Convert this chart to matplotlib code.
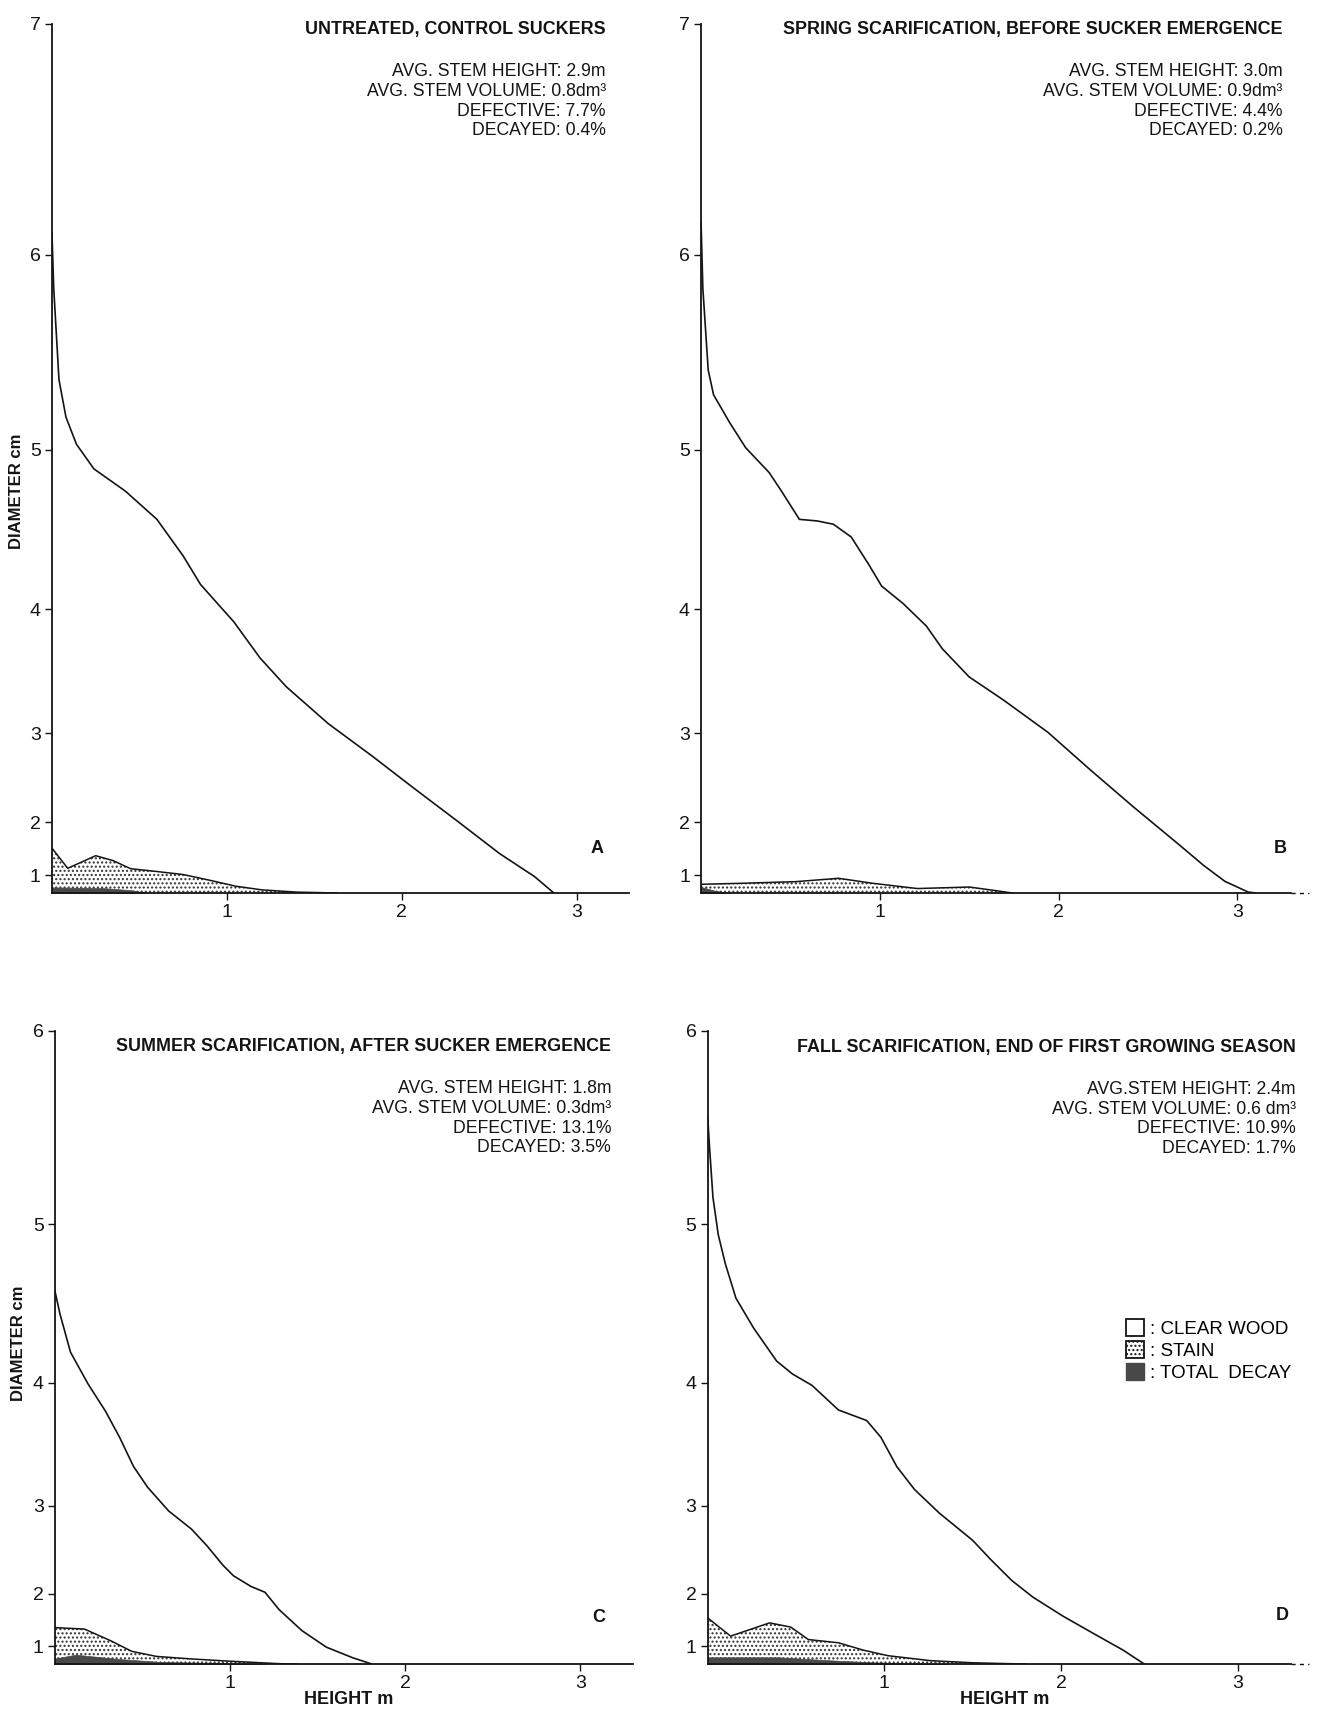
import numpy as np
import matplotlib.pyplot as plt
from matplotlib.patches import Patch

plt.rcParams['font.family'] = ['Liberation Sans', 'DejaVu Sans']
plt.rcParams['hatch.linewidth'] = 1.0

# --- panel texts ---
panel_letters = ['A', 'B', 'C', 'D']
titles = ['UNTREATED, CONTROL SUCKERS',
          'SPRING SCARIFICATION, BEFORE SUCKER EMERGENCE',
          'SUMMER SCARIFICATION, AFTER SUCKER EMERGENCE',
          'FALL SCARIFICATION, END OF FIRST GROWING SEASON']
stem_height = ['AVG. STEM HEIGHT: 2.9m', 'AVG. STEM HEIGHT: 3.0m',
               'AVG. STEM HEIGHT: 1.8m', 'AVG.STEM HEIGHT: 2.4m']
stem_volume = ['AVG. STEM VOLUME: 0.8dm\u00b3', 'AVG. STEM VOLUME: 0.9dm\u00b3',
               'AVG. STEM VOLUME: 0.3dm\u00b3', 'AVG. STEM VOLUME: 0.6 dm\u00b3']
defective = ['DEFECTIVE: 7.7%', 'DEFECTIVE: 4.4%', 'DEFECTIVE: 13.1%', 'DEFECTIVE: 10.9%']
decayed = ['DECAYED: 0.4%', 'DECAYED: 0.2%', 'DECAYED: 3.5%', 'DECAYED: 1.7%']
diam_max = [7, 7, 6, 6]

# --- stem profiles: height (m) vs diameter (cm) ---
a_x = [0, 0.01, 0.04, 0.08, 0.14, 0.24, 0.42, 0.60, 0.75, 0.85, 1.04, 1.19, 1.34,
       1.58, 1.83, 2.07, 2.32, 2.56, 2.76, 2.87]
a_d = [6.10, 5.84, 5.38, 5.18, 5.03, 4.89, 4.76, 4.59, 4.36, 4.17, 3.91, 3.64, 3.41,
       3.09, 2.78, 2.43, 2.01, 1.49, 0.96, 0]
a_stain_x = [0, 0.09, 0.25, 0.35, 0.45, 0.60, 0.75, 0.90, 1.05, 1.20, 1.40, 1.63]
a_stain_d = [1.59, 1.18, 1.45, 1.35, 1.17, 1.10, 1.02, 0.85, 0.62, 0.42, 0.22, 0]
a_decay_x = [0, 0.30, 0.45, 0.55]
a_decay_d = [0.56, 0.52, 0.40, 0]

b_x = [0, 0.01, 0.04, 0.07, 0.16, 0.25, 0.38, 0.45, 0.55, 0.65, 0.74, 0.84, 0.94,
       1.01, 1.13, 1.26, 1.35, 1.50, 1.69, 1.94, 2.18, 2.42, 2.67, 2.81, 2.93, 3.06, 3.10]
b_d = [6.15, 5.84, 5.43, 5.30, 5.15, 5.01, 4.87, 4.76, 4.59, 4.58, 4.56, 4.48, 4.30,
       4.16, 4.04, 3.88, 3.71, 3.49, 3.30, 3.01, 2.63, 2.20, 1.66, 1.25, 0.81, 0.23, 0]
b_stain_x = [0, 0.23, 0.53, 0.77, 0.96, 1.21, 1.50, 1.64, 1.74]
b_stain_d = [0.70, 0.74, 0.80, 0.91, 0.74, 0.50, 0.58, 0.38, 0]
b_decay_x = [0, 0.08, 0.16]
b_decay_d = [0.58, 0.35, 0]

c_x = [0, 0.03, 0.09, 0.19, 0.29, 0.37, 0.45, 0.53, 0.65, 0.78, 0.87, 0.96, 1.02,
       1.12, 1.20, 1.28, 1.41, 1.55, 1.70, 1.81]
c_d = [4.61, 4.46, 4.21, 3.99, 3.79, 3.59, 3.35, 3.17, 2.95, 2.77, 2.59, 2.37, 2.24,
       2.10, 2.02, 1.76, 1.38, 0.98, 0.60, 0]
c_stain_x = [0, 0.17, 0.32, 0.44, 0.58, 0.78, 0.99, 1.28, 1.38]
c_stain_d = [1.44, 1.41, 1.15, 0.85, 0.66, 0.54, 0.41, 0.15, 0]
c_decay_x = [0, 0.12, 0.36, 0.60, 0.97, 1.20]
c_decay_d = [0.56, 0.73, 0.54, 0.35, 0.22, 0]

d_x = [0, 0.01, 0.03, 0.06, 0.10, 0.16, 0.26, 0.39, 0.48, 0.59, 0.74, 0.90, 0.98,
       1.07, 1.17, 1.31, 1.50, 1.60, 1.72, 1.84, 2.01, 2.20, 2.35, 2.47]
d_d = [5.58, 5.43, 5.15, 4.94, 4.77, 4.56, 4.37, 4.15, 4.06, 3.98, 3.80, 3.72, 3.59,
       3.35, 3.15, 2.93, 2.65, 2.44, 2.18, 1.95, 1.65, 1.28, 0.89, 0]
d_stain_x = [0, 0.13, 0.35, 0.47, 0.57, 0.74, 0.88, 1.02, 1.26, 1.50, 1.80]
d_stain_d = [1.62, 1.26, 1.53, 1.45, 1.18, 1.10, 0.89, 0.69, 0.44, 0.27, 0]
d_decay_x = [0, 0.40, 0.64, 0.93, 1.22, 1.36]
d_decay_d = [0.62, 0.62, 0.49, 0.31, 0.15, 0]

profiles = [(a_x, a_d), (b_x, b_d), (c_x, c_d), (d_x, d_d)]
stains = [(a_stain_x, a_stain_d), (b_stain_x, b_stain_d),
          (c_stain_x, c_stain_d), (d_stain_x, d_stain_d)]
decays = [(a_decay_x, a_decay_d), (b_decay_x, b_decay_d),
          (c_decay_x, c_decay_d), (d_decay_x, d_decay_d)]

# --- layout (figure fractions) ---
rects = [[0.0394, 0.4784, 0.4375, 0.5076],
         [0.5315, 0.4784, 0.4473, 0.5076],
         [0.0415, 0.0280, 0.4384, 0.3700],
         [0.5365, 0.0280, 0.4423, 0.3700]]
title_pos = [(0.960, 0.994), (0.986, 0.994), (0.962, 0.9755), (1.008, 0.974)]
letter_pos = [(0.945, 0.051), (0.981, 0.051), (0.940, 0.073), (0.985, 0.077)]

decay_color = '#484848'
stain_hatch = '#333333'
ink = '#141414'


def fwd(d):
    return np.asarray(d, dtype=float) ** 2


def inv(a):
    return np.sqrt(np.clip(np.asarray(a, dtype=float), 0, None))


fig = plt.figure(figsize=(13.19, 17.12), dpi=100)

for i in range(4):
    ax = fig.add_axes(rects[i])
    ax.set_yscale('function', functions=(fwd, inv))
    ax.set_xlim(0, 3.3)
    ax.set_ylim(0, diam_max[i])

    px, pd_ = profiles[i]
    sx, sd = stains[i]
    dx, dd = decays[i]
    ax.plot(px, pd_, color=ink, lw=1.2, zorder=3, solid_joinstyle='round')
    ax.fill_between(sx, 0, sd, facecolor='white', hatch='....', edgecolor=stain_hatch,
                    linewidth=0, zorder=2)
    ax.plot(sx, sd, color=ink, lw=1.1, zorder=3, solid_joinstyle='round')
    ax.fill_between(dx, 0, dd, facecolor=decay_color, edgecolor=decay_color,
                    linewidth=0.5, zorder=2.5)

    for s in ['top', 'right']:
        ax.spines[s].set_visible(False)
    for s in ['left', 'bottom']:
        ax.spines[s].set_linewidth(1.3)
        ax.spines[s].set_color(ink)
    ax.set_xticks([1, 2, 3])
    ax.set_yticks(list(range(1, diam_max[i] + 1)))
    ax.tick_params(direction='out', length=5, width=1.0, labelsize=14,
                   colors=ink, pad=3)

    if i in (1, 3):
        ax.plot([1.0, 1.03], [0, 0], transform=ax.transAxes, color=ink,
                lw=1.0, ls=(0, (3, 3)), clip_on=False)

    tx, ty = title_pos[i]
    ax.text(tx, ty, titles[i], transform=ax.transAxes, ha='right', va='center',
            fontsize=12.9, fontweight='bold', color=ink)
    for k, line in enumerate([stem_height[i], stem_volume[i], defective[i], decayed[i]]):
        ax.annotate(line, xy=(tx, ty), xycoords='axes fraction',
                    xytext=(0, -(42.5 + 19.7 * k)), textcoords='offset pixels',
                    ha='right', va='center', fontsize=12.7, color=ink)
    lx, ly = letter_pos[i]
    ax.text(lx, ly, panel_letters[i], transform=ax.transAxes, ha='center',
            va='center', fontsize=13, fontweight='bold', color=ink)

    if i == 3:
        handles = [Patch(facecolor='white', edgecolor=ink, linewidth=1.3),
                   Patch(facecolor='white', edgecolor=ink, hatch='....', linewidth=1.3),
                   Patch(facecolor=decay_color, edgecolor=decay_color)]
        ax.legend(handles, [': CLEAR WOOD', ': STAIN', ': TOTAL  DECAY'],
                  loc='upper left', bbox_to_anchor=(0.717, 0.545), frameon=False,
                  fontsize=13.5, handlelength=0.95, handleheight=1.05,
                  handletextpad=0.35, labelspacing=0.16, borderpad=0,
                  borderaxespad=0)

fig.text(17 / 1319, 1 - 491 / 1712, 'DIAMETER cm', rotation=90, ha='center',
         va='center', fontsize=12, fontweight='bold', color=ink)
fig.text(19 / 1319, 1 - 1343 / 1712, 'DIAMETER cm', rotation=90, ha='center',
         va='center', fontsize=12, fontweight='bold', color=ink)
fig.text(349 / 1319, 1 - 1700 / 1712, 'HEIGHT m', ha='center', va='center',
         fontsize=13, fontweight='bold', color=ink)
fig.text(1005 / 1319, 1 - 1700 / 1712, 'HEIGHT m', ha='center', va='center',
         fontsize=13, fontweight='bold', color=ink)

fig.savefig('out.png', dpi=100, facecolor='white')
